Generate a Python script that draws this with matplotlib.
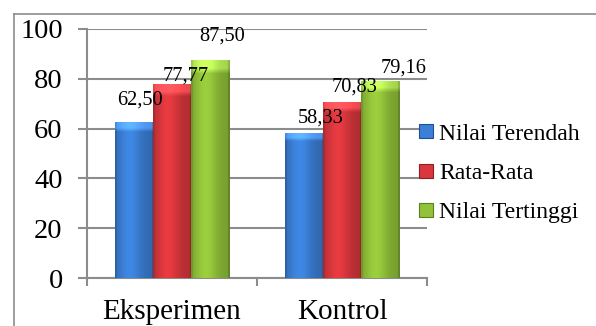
import numpy as np
import matplotlib
matplotlib.use("Agg")
import matplotlib.pyplot as plt
from matplotlib.lines import Line2D
from matplotlib.colors import to_rgb

plt.rcParams['font.family'] = ['Liberation Serif', 'DejaVu Serif']

categories = ["Eksperimen", "Kontrol"]
series = ["Nilai Terendah", "Rata-Rata", "Nilai Tertinggi"]
terendah = [62.50, 58.33]
rata = [77.77, 70.83]
tertinggi = [87.50, 79.16]
values = [terendah, rata, tertinggi]
yticks = [0, 20, 40, 60, 80, 100]

colors = ["#3b7fd6", "#d9373d", "#92c23a"]
edges = ["#1f4f95", "#8e1f22", "#5c7f1e"]
# label offsets (pixels) from top-centre of each bar
label_dx = [[6, 17], [14, 13], [12, 23]]
label_dy = [[22, 15], [8, 15], [24, 13]]

W, H = 596, 326
fig = plt.figure(figsize=(W / 100, H / 100), dpi=100)

# outer chart frame
fig.add_artist(Line2D([14 / W, 1], [1 - 14 / H, 1 - 14 / H], color="#8c8c8c", lw=1.2))
fig.add_artist(Line2D([14 / W, 14 / W], [0, 1 - 14 / H], color="#8c8c8c", lw=1.2))

ax = fig.add_axes([87 / W, 48 / H, (427 - 87) / W, (278 - 29) / H])

grid_c = "#8c8c8c"
x = np.arange(len(categories))
bw = 0.225


def shade(col, n=60):
    # horizontal gloss: dark edges, bright band left of centre
    base = np.array(to_rgb(col))
    t = np.linspace(0, 1, n)
    f = 0.82 + 0.25 * np.exp(-((t - 0.38) / 0.3) ** 2)
    f[:3] *= 0.88
    f[-3:] *= 0.82
    img = np.clip(base[None, None, :] * f[None, :, None], 0, 1)
    img = np.repeat(img, 40, axis=0)
    # lighter bevel at the top
    img[:2] = np.clip(img[:2] * 1.2 + 0.08, 0, 1)
    return img


for i in range(len(series)):
    for j in range(len(categories)):
        xc = x[j] + (i - 1) * bw
        v = values[i][j]
        bar = ax.bar(xc, v, bw, color=colors[i], edgecolor="none", zorder=3)[0]
        im = ax.imshow(shade(colors[i]), extent=(xc - bw / 2, xc + bw / 2, 0, v),
                       aspect="auto", zorder=3.5, interpolation="bilinear")
        im.set_clip_path(bar)
        ax.annotate(f"{v:.2f}".replace(".", ","), (xc, v),
                    xytext=(label_dx[i][j], label_dy[i][j]), textcoords="offset pixels",
                    ha="center", va="center", fontsize=14.7, zorder=5)

ax.set_xlim(-0.5, 1.5)
ax.set_ylim(0, 100)
ax.set_yticks(yticks)
ax.set_yticklabels([str(t) for t in yticks], fontsize=20.5)
ax.yaxis.grid(True, color=grid_c, lw=1.5, zorder=0)
ax.tick_params(axis="y", length=6.5, width=1.5, color=grid_c, pad=11)

ax.set_xticks([-0.5, 0.5, 1.5])
ax.set_xticklabels([])
ax.set_xticks(x, minor=True)
ax.set_xticklabels(categories, minor=True, fontsize=21)
ax.tick_params(axis="x", which="major", length=6, width=1.5, color=grid_c)
ax.tick_params(axis="x", which="minor", length=0, pad=15)

for side in ["top", "right"]:
    ax.spines[side].set_visible(False)
for side in ["left", "bottom"]:
    ax.spines[side].set_color(grid_c)
    ax.spines[side].set_linewidth(1.5)

handles = [Line2D([], [], ls="none", marker="s", markersize=9.5,
                  markerfacecolor=colors[i], markeredgecolor=edges[i], markeredgewidth=0.8)
           for i in range(len(series))]
leg = fig.legend(handles, series, loc="center left", bbox_to_anchor=(419 / W, 1 - 173 / H),
                 frameon=False, handlelength=0.6, handletextpad=0.25,
                 borderpad=0, borderaxespad=0, labelspacing=0.75, fontsize=17)
leg.set_zorder(10)

fig.savefig("out.png", dpi=100)
